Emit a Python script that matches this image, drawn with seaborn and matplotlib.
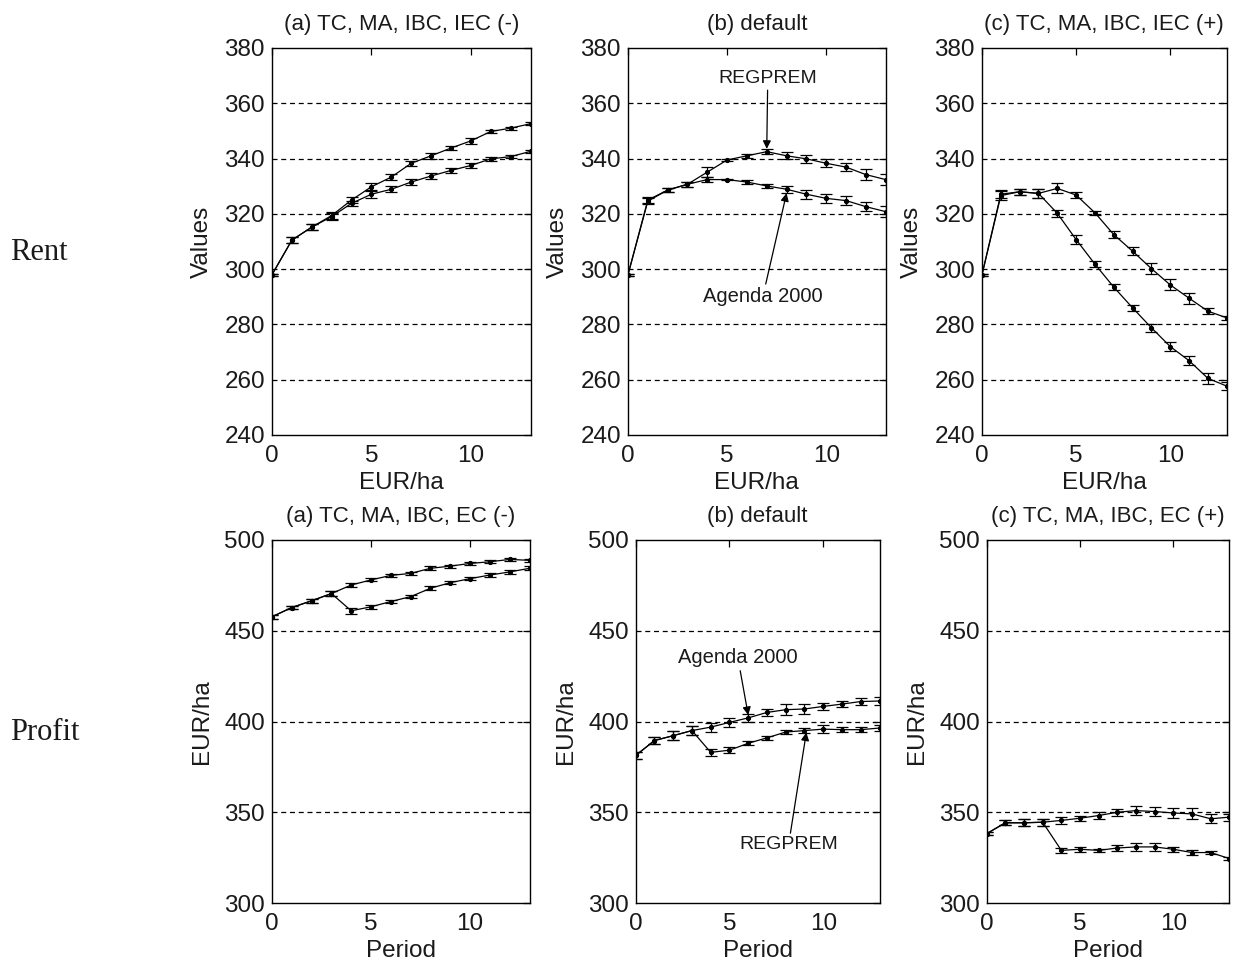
import numpy as np
import pandas as pd
import matplotlib
matplotlib.use("Agg")
import matplotlib.pyplot as plt
import seaborn as sns

# ---------------- data ----------------
periods = list(range(14))
series_names = ["REGPREM", "Agenda 2000"]

# Rent (top row)
rent_a_reg = [298, 310.5, 315.2, 319.4, 325.0, 329.8, 333.3, 338.3, 341.0, 343.8, 346.4, 349.8, 351.0, 352.6]
rent_a_agd = [298, 310.5, 315.2, 319.0, 323.8, 327.1, 328.9, 331.5, 333.7, 335.7, 337.5, 339.9, 340.7, 342.6]
rent_a_reg_err = [0.3, 1.0, 1.2, 1.2, 1.0, 1.2, 1.0, 1.0, 1.0, 0.8, 1.0, 0.5, 0.5, 0.5]
rent_a_agd_err = [0.3, 1.0, 1.2, 1.2, 1.0, 1.2, 1.0, 1.0, 1.0, 0.8, 1.0, 0.8, 0.5, 0.5]

rent_b_reg = [298, 325.0, 328.6, 330.7, 335.1, 339.5, 341.0, 342.5, 341.0, 339.9, 338.3, 336.9, 334.2, 332.4]
rent_b_agd = [298, 324.6, 328.6, 330.7, 332.4, 332.4, 331.5, 330.1, 328.9, 327.1, 325.6, 324.8, 322.6, 320.8]
rent_b_reg_err = [0.3, 1.2, 0.8, 1.0, 1.9, 0.5, 0.8, 1.0, 1.2, 1.4, 1.5, 1.5, 1.9, 2.0]
rent_b_agd_err = [0.3, 1.2, 0.8, 1.0, 0.8, 0.3, 0.8, 0.8, 1.2, 1.6, 1.6, 1.6, 1.6, 2.0]

rent_c_reg = [298, 327.1, 328.0, 327.4, 329.2, 326.8, 320.4, 312.5, 306.5, 300.2, 294.3, 289.5, 284.8, 282.4]
rent_c_agd = [298, 326.6, 328.0, 327.4, 320.2, 310.7, 301.8, 293.5, 286.0, 278.8, 272.0, 266.9, 260.5, 257.7]
rent_c_reg_err = [0.3, 1.5, 1.0, 1.5, 1.8, 1.0, 0.8, 1.2, 1.5, 2.0, 2.0, 2.0, 1.2, 0.8]
rent_c_agd_err = [0.3, 1.5, 1.0, 1.5, 1.2, 1.5, 1.2, 1.2, 1.2, 1.5, 1.5, 1.5, 2.0, 1.5]

# Profit (bottom row)
prof_a_agd = [457.7, 462.8, 466.5, 470.5, 475.2, 478.0, 480.5, 481.6, 484.4, 485.6, 487.1, 488.0, 489.3, 488.8]
prof_a_reg = [457.7, 462.8, 466.5, 470.5, 461.0, 463.2, 466.1, 468.8, 473.4, 476.5, 478.7, 480.7, 482.4, 484.4]
prof_a_agd_err = [1.0, 1.0, 1.2, 1.5, 1.0, 0.8, 0.8, 0.8, 1.0, 0.8, 1.0, 0.8, 0.8, 1.0]
prof_a_reg_err = [1.0, 1.0, 1.2, 1.5, 1.5, 1.0, 1.0, 1.0, 1.0, 1.0, 1.0, 1.0, 1.0, 1.0]

prof_b_agd = [381.3, 389.5, 392.2, 395.0, 396.9, 399.5, 402.0, 405.0, 406.5, 406.9, 408.3, 409.6, 411.0, 411.3]
prof_b_reg = [381.3, 389.5, 392.2, 395.0, 383.0, 384.2, 388.0, 391.0, 394.2, 395.0, 395.8, 395.5, 395.5, 396.4]
prof_b_agd_err = [2.0, 2.0, 2.5, 2.5, 2.5, 2.5, 2.0, 2.0, 3.0, 2.5, 2.0, 1.5, 2.0, 2.0]
prof_b_reg_err = [2.0, 2.0, 2.5, 2.5, 2.0, 1.5, 1.0, 1.0, 1.0, 1.5, 2.0, 1.5, 1.5, 1.5]

prof_c_agd = [338.2, 344.2, 344.2, 344.5, 345.5, 346.7, 348.2, 350.0, 350.9, 350.4, 349.6, 349.1, 346.4, 347.3]
prof_c_reg = [338.2, 344.2, 344.2, 344.5, 329.0, 329.6, 329.0, 330.3, 330.9, 330.9, 329.6, 327.8, 327.8, 324.5]
prof_c_agd_err = [1.0, 1.5, 2.0, 2.0, 2.0, 1.5, 2.0, 2.0, 2.5, 2.5, 2.5, 3.0, 2.5, 2.0]
prof_c_reg_err = [1.0, 1.5, 2.0, 2.0, 1.5, 1.5, 1.0, 1.5, 2.0, 2.0, 1.5, 1.2, 1.0, 1.0]

top_titles = ["(a) TC, MA, IBC, IEC (-)", "(b) default", "(c) TC, MA, IBC, IEC (+)"]
bot_titles = ["(a) TC, MA, IBC, EC (-)", "(b) default", "(c) TC, MA, IBC, EC (+)"]
row_labels = ["Rent", "Profit"]
top_ylabel, top_xlabel = "Values", "EUR/ha"
bot_ylabel, bot_xlabel = "EUR/ha", "Period"
top_yticks = [240, 260, 280, 300, 320, 340, 360, 380]
bot_yticks = [300, 350, 400, 450, 500]
xticks = [0, 5, 10]

# ---------------- styling ----------------
sns.set_theme(style="white")
plt.rcParams["font.family"] = ["Liberation Sans", "DejaVu Sans"]
plt.rcParams["xtick.direction"] = "in"
plt.rcParams["ytick.direction"] = "in"

fig = plt.figure(figsize=(12.4, 9.64), dpi=100)
W, H = 1240.0, 964.0

def pos(x0, x1, y0, y1):
    return [x0 / W, 1 - y1 / H, (x1 - x0) / W, (y1 - y0) / H]

top_pos = [pos(272, 530.5, 48, 435), pos(628, 885.7, 48, 435), pos(982, 1226.7, 48, 435)]
bot_pos = [pos(272, 529.5, 540, 903), pos(635.7, 879.5, 540, 903), pos(986.7, 1229.3, 540, 903)]

top_data = [
    (rent_a_reg, rent_a_reg_err, rent_a_agd, rent_a_agd_err),
    (rent_b_reg, rent_b_reg_err, rent_b_agd, rent_b_agd_err),
    (rent_c_reg, rent_c_reg_err, rent_c_agd, rent_c_agd_err),
]
bot_data = [
    (prof_a_reg, prof_a_reg_err, prof_a_agd, prof_a_agd_err),
    (prof_b_reg, prof_b_reg_err, prof_b_agd, prof_b_agd_err),
    (prof_c_reg, prof_c_reg_err, prof_c_agd, prof_c_agd_err),
]

TXT = "#1a1a1a"

def draw_panel(p, data, title, xlabel, ylabel, ylim, yticks):
    ax = fig.add_axes(p)
    reg, reg_err, agd, agd_err = data
    df = pd.DataFrame({
        "Period": periods * 2,
        "Value": list(reg) + list(agd),
        "Err": list(reg_err) + list(agd_err),
        "Scenario": [series_names[0]] * len(periods) + [series_names[1]] * len(periods),
    })
    sns.lineplot(data=df, x="Period", y="Value", units="Scenario", estimator=None,
                 color="black", lw=0.9, marker="o", markersize=3,
                 markeredgecolor="black", ax=ax, legend=False, zorder=3)
    for name in series_names:
        sub = df[df["Scenario"] == name]
        ax.errorbar(sub["Period"], sub["Value"], yerr=sub["Err"], fmt="none",
                    ecolor="black", elinewidth=0.9, capsize=4, capthick=0.9, zorder=3)
    ax.set_xlim(0, 13)
    ax.set_ylim(*ylim)
    ax.set_xticks(xticks)
    ax.set_yticks(yticks)
    for y in yticks[1:-1]:
        ax.axhline(y, color="black", ls=(0, (4, 3)), lw=0.9, zorder=1)
    ax.tick_params(axis="both", which="both", labelsize=17.5, length=5, width=0.9,
                   top=True, right=True, colors="black", labelcolor=TXT)
    ax.tick_params(axis="y", pad=5)
    ax.tick_params(axis="x", pad=7)
    ax.set_title(title, fontsize=16, pad=13, color=TXT)
    ax.set_xlabel(xlabel, fontsize=17.5, labelpad=4, color=TXT)
    ax.set_ylabel(ylabel, fontsize=17.5, labelpad=8, color=TXT)
    for s in ax.spines.values():
        s.set_color("black")
        s.set_linewidth(1.0)
    ax.set_facecolor("white")
    return ax

top_axes = [draw_panel(top_pos[i], top_data[i], top_titles[i], top_xlabel, top_ylabel,
                       (240, 380), top_yticks) for i in range(3)]
bot_axes = [draw_panel(bot_pos[i], bot_data[i], bot_titles[i], bot_xlabel, bot_ylabel,
                       (300, 500), bot_yticks) for i in range(3)]

arrow = dict(arrowstyle="-|>", color="black", lw=0.9, mutation_scale=12, shrinkA=0, shrinkB=0)
axb = top_axes[1]
axb.annotate("REGPREM", xy=(7.0, 343.5), xytext=(7.05, 369.0), fontsize=14,
             ha="center", va="center", arrowprops=arrow, zorder=5, color=TXT)
axb.annotate("Agenda 2000", xy=(8.0, 327.5), xytext=(6.8, 290.0), fontsize=14.5,
             ha="center", va="center", arrowprops=arrow, zorder=5, color=TXT)
axb2 = bot_axes[1]
axb2.annotate("Agenda 2000", xy=(6.0, 403.5), xytext=(5.45, 435.0), fontsize=14.5,
              ha="center", va="center", arrowprops=arrow, zorder=5, color=TXT)
axb2.annotate("REGPREM", xy=(9.1, 394.0), xytext=(8.15, 332.0), fontsize=14,
              ha="center", va="center", arrowprops=arrow, zorder=5, color=TXT)

fig.text(10 / W, 1 - 253 / H, row_labels[0], fontsize=22, ha="left", va="center",
         family=["Liberation Serif", "DejaVu Serif"], color=TXT)
fig.text(10 / W, 1 - 732 / H, row_labels[1], fontsize=22, ha="left", va="center",
         family=["Liberation Serif", "DejaVu Serif"], color=TXT)

fig.savefig("out.png", dpi=100, facecolor="white")
